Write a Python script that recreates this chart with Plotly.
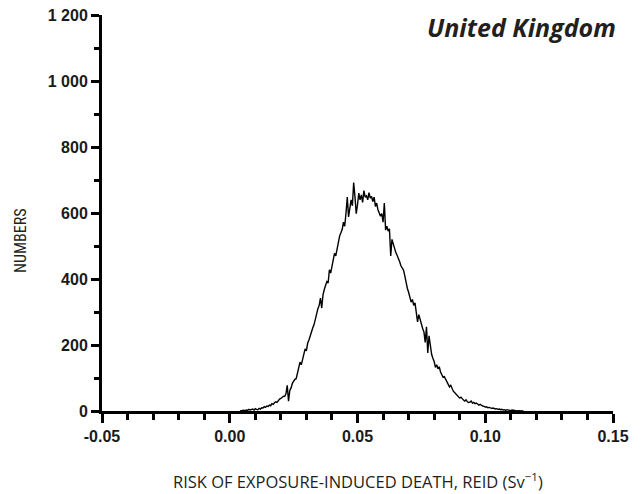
import numpy as np
import plotly.graph_objects as go

# Bin centres for the histogram line (REID, Sv^-1), 0.0005 apart
x_start = 0.004
x_step = 0.0005

counts = [
    0, 1, 0, 2, 1, 3, 2, 5, 3, 4,
    6, 3, 7, 5, 4, 8, 6, 10, 9, 13,
    11, 15, 14, 18, 16, 22, 20, 25, 28, 26,
    33, 36, 38, 42, 45, 44, 52, 78, 30, 62,
    70, 84, 92, 96, 98, 118, 132, 148, 140, 160,
    172, 188, 182, 206, 215, 230, 238, 252, 262, 280,
    296, 310, 320, 342, 312, 352, 368, 380, 392, 388,
    428, 418, 440, 456, 478, 470, 495, 510, 530, 542,
    550, 572, 560, 600, 648, 588, 615, 640, 622, 692,
    650, 598, 625, 660, 640, 655, 632, 668, 648, 652,
    640, 662, 645, 650, 635, 648, 620, 630, 610, 600,
    590, 598, 572, 630, 548, 560, 545, 552, 470, 520,
    505, 496, 480, 472, 464, 452, 440, 435, 427, 410,
    385, 372, 360, 348, 330, 338, 320, 328, 300, 270,
    292, 275, 262, 250, 240, 208, 255, 176, 228, 190,
    172, 160, 150, 132, 140, 128, 134, 118, 112, 102,
    104, 95, 88, 80, 73, 78, 66, 60, 56, 52,
    48, 44, 39, 42, 36, 33, 30, 34, 28, 26,
    27, 30, 24, 26, 22, 24, 21, 18, 20, 16,
    15, 14, 12, 13, 10, 11, 9, 8, 9, 7,
    6, 7, 5, 6, 4, 5, 3, 4, 2, 4,
    3, 2, 1, 3, 2, 1, 2, 0, 1, 0,
    1, 0, 0,
]
reid = x_start + x_step * np.arange(len(counts))

x_ticks = [-0.05, 0.00, 0.05, 0.10, 0.15]
x_labels = ['-0.05', '0.00', '0.05', '0.10', '0.15']
y_ticks = [0, 200, 400, 600, 800, 1000, 1200]
y_labels = ['0', '200', '400', '600', '800', '1 000', '1 200']

fig = go.Figure()
fig.add_trace(go.Scatter(
    x=reid, y=counts,
    mode='lines',
    line=dict(color='black', width=1.4),
    showlegend=False
))

tick_font = dict(family='Liberation Sans, Arial', size=16, color='#1a1a1a', weight='bold')
narrow_font = dict(family='Liberation Sans Narrow, Roboto Condensed, Open Sans', size=16, color='#231f20')

fig.update_xaxes(
    range=[-0.05, 0.15],
    tickvals=x_ticks, ticktext=x_labels,
    ticks='outside', ticklen=9, tickwidth=3, tickcolor='black',
    minor=dict(dtick=0.01, ticks='outside', ticklen=6, tickwidth=3, tickcolor='black'),
    showline=True, linewidth=3, linecolor='black',
    showgrid=False, zeroline=False,
    tickfont=tick_font, automargin=False, ticklabeloverflow='allow',
)
fig.update_yaxes(
    range=[0, 1200],
    tickvals=y_ticks, ticktext=y_labels,
    ticks='outside', ticklen=8, tickwidth=3, tickcolor='black',
    minor=dict(dtick=100, ticks='outside', ticklen=5, tickwidth=3, tickcolor='black'),
    showline=True, linewidth=3, linecolor='black',
    showgrid=False, zeroline=False,
    tickfont=tick_font, automargin=False, ticklabeloverflow='allow',
)

fig.update_layout(
    width=634, height=486,
    margin=dict(l=94, r=29, t=7, b=83),
    plot_bgcolor='white', paper_bgcolor='white',
    annotations=[
        dict(text='<b><i>United Kingdom</i></b>', xref='paper', yref='paper',
             x=1.01, y=0.97, xanchor='right', yanchor='middle', showarrow=False,
             font=dict(family='Open Sans', size=25, color='#231f20')),
        dict(text='RISK OF EXPOSURE-INDUCED DEATH, REID (Sv<sup>\u22121</sup>)',
             xref='paper', yref='paper', x=0.5, y=-0.176, xanchor='center', yanchor='middle',
             showarrow=False, font=dict(family='Open Sans', size=16.5, color='#231f20')),
        dict(text='NUMBERS', xref='paper', yref='paper', x=-0.16, y=0.43,
             xanchor='center', yanchor='middle', textangle=-90, showarrow=False,
             font=narrow_font),
    ],
)

fig.write_html("out.html")
